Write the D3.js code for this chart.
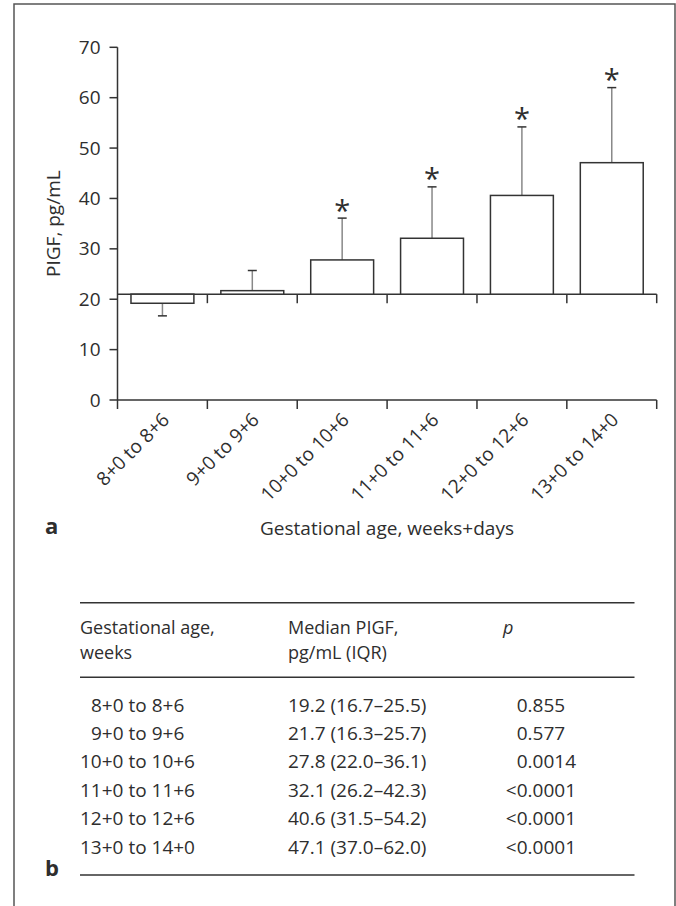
<!doctype html>
<html lang="en">
<head>
    <meta charset="UTF-8">
    <title>PlGF by gestational age</title>
    <script src="https://d3js.org/d3.v7.min.js"></script>
    <style>
      body { margin: 0; background: #fff; }
      svg { display: block; font-family: "Open Sans", sans-serif; }
      text { fill: #2e2e2e; }
    </style>
</head>
<body>
    <svg width="676" height="906"></svg>

    <script>

      // Data
      const categories = ["8+0 to 8+6", "9+0 to 9+6", "10+0 to 10+6", "11+0 to 11+6", "12+0 to 12+6", "13+0 to 14+0"];
      const medians = [19.2, 21.7, 27.8, 32.1, 40.6, 47.1];
      const lowerQ = [16.7, 16.3, 22.0, 26.2, 31.5, 37.0];
      const upperQ = [25.5, 25.7, 36.1, 42.3, 54.2, 62.0];
      const pValues = ["0.855", "0.577", "0.0014", "<0.0001", "<0.0001", "<0.0001"];
      const significant = [false, false, true, true, true, true];
      const referenceLevel = 21;
      const yTicks = [0, 10, 20, 30, 40, 50, 60, 70];

      const svg = d3.select("svg");
      const ink = "#333";

      // outer frame
      svg.append("rect")
          .attr("x", 14).attr("y", 4)
          .attr("width", 661).attr("height", 940)
          .attr("fill", "none").attr("stroke", "#555").attr("stroke-width", 1.5);

      // Scales
      const x = d3.scaleBand()
          .domain(categories)
          .range([117.5, 656.7])
          .paddingInner(0.3)
          .paddingOuter(0.15);
      const y = d3.scaleLinear().domain([0, 70]).range([400, 47.3]);
      const step = x.step();
      const bounds = d3.range(categories.length + 1).map(i => 117.5 + i * step);

      // y axis
      const yAxis = svg.append("g").attr("transform", "translate(117.5,0)");
      yAxis.append("line")
          .attr("y1", y(70)).attr("y2", y(0))
          .attr("stroke", ink).attr("stroke-width", 1.5);
      yAxis.selectAll(".yt").data(yTicks).join("line")
          .attr("x1", -8).attr("x2", 0)
          .attr("y1", d => y(d)).attr("y2", d => y(d))
          .attr("stroke", ink).attr("stroke-width", 1.5);
      yAxis.selectAll(".yl").data(yTicks).join("text")
          .attr("x", -17).attr("y", d => y(d)).attr("dy", "0.35em")
          .attr("text-anchor", "end").attr("font-size", 19)
          .text(d => d);

      svg.append("text")
          .attr("transform", `translate(60,${(y(0) + y(70)) / 2}) rotate(-90)`)
          .attr("text-anchor", "middle").attr("font-size", 19)
          .text("PIGF, pg/mL");

      // axis lines: at the reference level and at zero
      [referenceLevel, 0].forEach(v => {
        svg.append("line")
            .attr("x1", 117.5).attr("x2", bounds[bounds.length - 1])
            .attr("y1", y(v)).attr("y2", y(v))
            .attr("stroke", ink).attr("stroke-width", 1.5);
        svg.selectAll(null).data(v === 0 ? bounds : bounds.slice(1)).join("line")
            .attr("x1", d => d).attr("x2", d => d)
            .attr("y1", y(v)).attr("y2", y(v) + 9)
            .attr("stroke", ink).attr("stroke-width", 1.5);
      });

      // Bars
      const rows = categories.map((c, i) => ({c, m: medians[i], lo: lowerQ[i], hi: upperQ[i], sig: significant[i]}));
      const cx = d => x(d.c) + x.bandwidth() / 2;
      const tip = d => y(d.m < referenceLevel ? d.lo : d.hi);

      const g = svg.append("g");
      // whiskers
      g.selectAll(".stem").data(rows).join("line")
          .attr("x1", cx).attr("x2", cx)
          .attr("y1", d => y(d.m)).attr("y2", tip)
          .attr("stroke", "#888").attr("stroke-width", 1.5);
      g.selectAll(".cap").data(rows).join("line")
          .attr("x1", d => cx(d) - 4.5).attr("x2", d => cx(d) + 4.5)
          .attr("y1", tip).attr("y2", tip)
          .attr("stroke", ink).attr("stroke-width", 1.5);
      g.selectAll("rect").data(rows).join("rect")
          .attr("x", d => x(d.c)).attr("width", x.bandwidth())
          .attr("y", d => y(Math.max(d.m, referenceLevel)))
          .attr("height", d => Math.abs(y(d.m) - y(referenceLevel)))
          .attr("fill", "#fff").attr("stroke", ink).attr("stroke-width", 1.5);

      g.selectAll(".star").data(rows.filter(d => d.sig)).join("text")
          .attr("x", cx)
          .attr("y", d => y(d.hi) - 15).attr("dy", "0.6em")
          .attr("text-anchor", "middle").attr("font-size", 29)
          .text("*");

      // x tick labels
      svg.selectAll(".xl").data(categories).join("text")
          .attr("transform", d => `translate(${x(d) + x.bandwidth() / 2 + 8},421) rotate(-45)`)
          .attr("text-anchor", "end").attr("font-size", 19)
          .text(d => d);

      svg.append("text")
          .attr("x", 387).attr("y", 535)
          .attr("text-anchor", "middle").attr("font-size", 19)
          .text("Gestational age, weeks+days");

      svg.append("text").attr("x", 45).attr("y", 534)
          .attr("font-size", 22).attr("font-weight", "bold").text("a");

      // Table (panel b)
      const tLeft = 80, tRight = 634.5;
      [602.7, 677.3, 875].forEach(ly => {
        svg.append("line")
            .attr("x1", tLeft).attr("x2", tRight)
            .attr("y1", ly).attr("y2", ly)
            .attr("stroke", ink).attr("stroke-width", 1.5);
      });

      const head = svg.append("g").attr("font-size", 18);
      head.append("text").attr("x", tLeft).attr("y", 634).text("Gestational age,");
      head.append("text").attr("x", tLeft).attr("y", 659).text("weeks");
      head.append("text").attr("x", 288).attr("y", 634).text("Median PIGF,");
      head.append("text").attr("x", 288).attr("y", 659).text("pg/mL (IQR)");
      head.append("text").attr("x", 503).attr("y", 634).attr("font-style", "italic").text("p");

      const rowY = i => 711.5 + i * 28.4;
      const body = svg.append("g").attr("font-size", 19);
      body.selectAll(".c1").data(rows).join("text")
          .attr("x", d => tLeft + (/^\d\+/.test(d.c) ? 11 : 0))
          .attr("y", (d, i) => rowY(i))
          .text(d => d.c);
      body.selectAll(".c2").data(rows).join("text")
          .attr("x", 288).attr("y", (d, i) => rowY(i))
          .text(d => `${d.m.toFixed(1)} (${d.lo.toFixed(1)}\u2013${d.hi.toFixed(1)})`);
      // p values, decimal aligned; "<" hangs to the left
      body.selectAll(".c3").data(pValues).join("text")
          .attr("x", 516.7).attr("y", (d, i) => rowY(i))
          .text(d => d.replace("<", ""));
      pValues.forEach((p, i) => {
        if (p.startsWith("<")) {
          body.append("text").attr("x", 516.7).attr("y", rowY(i))
              .attr("text-anchor", "end").text("<");
        }
      });

      svg.append("text").attr("x", 45).attr("y", 876)
          .attr("font-size", 22).attr("font-weight", "bold").text("b");

    </script>
</body>
</html>
